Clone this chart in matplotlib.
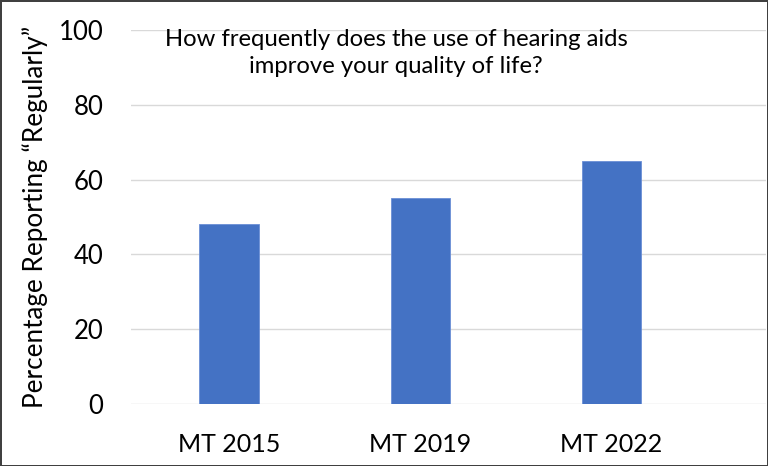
import matplotlib
matplotlib.use("Agg")
import matplotlib.pyplot as plt
import numpy as np

# data
categories = ["MT 2015", "MT 2019", "MT 2022"]
values = [48, 55, 65]
yticks = [0, 20, 40, 60, 80, 100]

plt.rcParams["font.family"] = ["Lato", "DejaVu Sans"]

fig = plt.figure(figsize=(7.68, 4.66), dpi=100)
fig.patch.set_edgecolor("#404040")
fig.patch.set_linewidth(2)
ax = fig.add_axes([131 / 768, 1 - 404 / 466, (766 - 131) / 768, (404 - 30) / 466])

x = np.arange(len(categories))
ax.bar(x, values, width=0.31, color="#4472C4", edgecolor="#6B8FD6", linewidth=0.6, zorder=3)

ax.set_xlim(-0.513, 2.81)
ax.set_ylim(0, 100)
ax.set_yticks(yticks)
ax.set_xticks(x)
ax.set_xticklabels(categories, fontsize=18)
ax.tick_params(axis="y", labelsize=18.5, length=0, pad=20)
ax.tick_params(axis="x", length=0, pad=21)
ax.grid(axis="y", color="#D9D9D9", linewidth=1)
ax.set_axisbelow(True)
for s in ax.spines.values():
    s.set_visible(False)

ax.set_ylabel("Percentage Reporting \u201cRegularly\u201d", fontsize=18.8)
ax.yaxis.set_label_coords(-83 / 635, 0.5)

fig.text(396 / 768, 1 - 53 / 466,
         "How frequently does the use of hearing aids\nimprove your quality of life?",
         ha="center", va="center", fontsize=17.2, linespacing=1.3)

fig.savefig("out.png", dpi=100)
